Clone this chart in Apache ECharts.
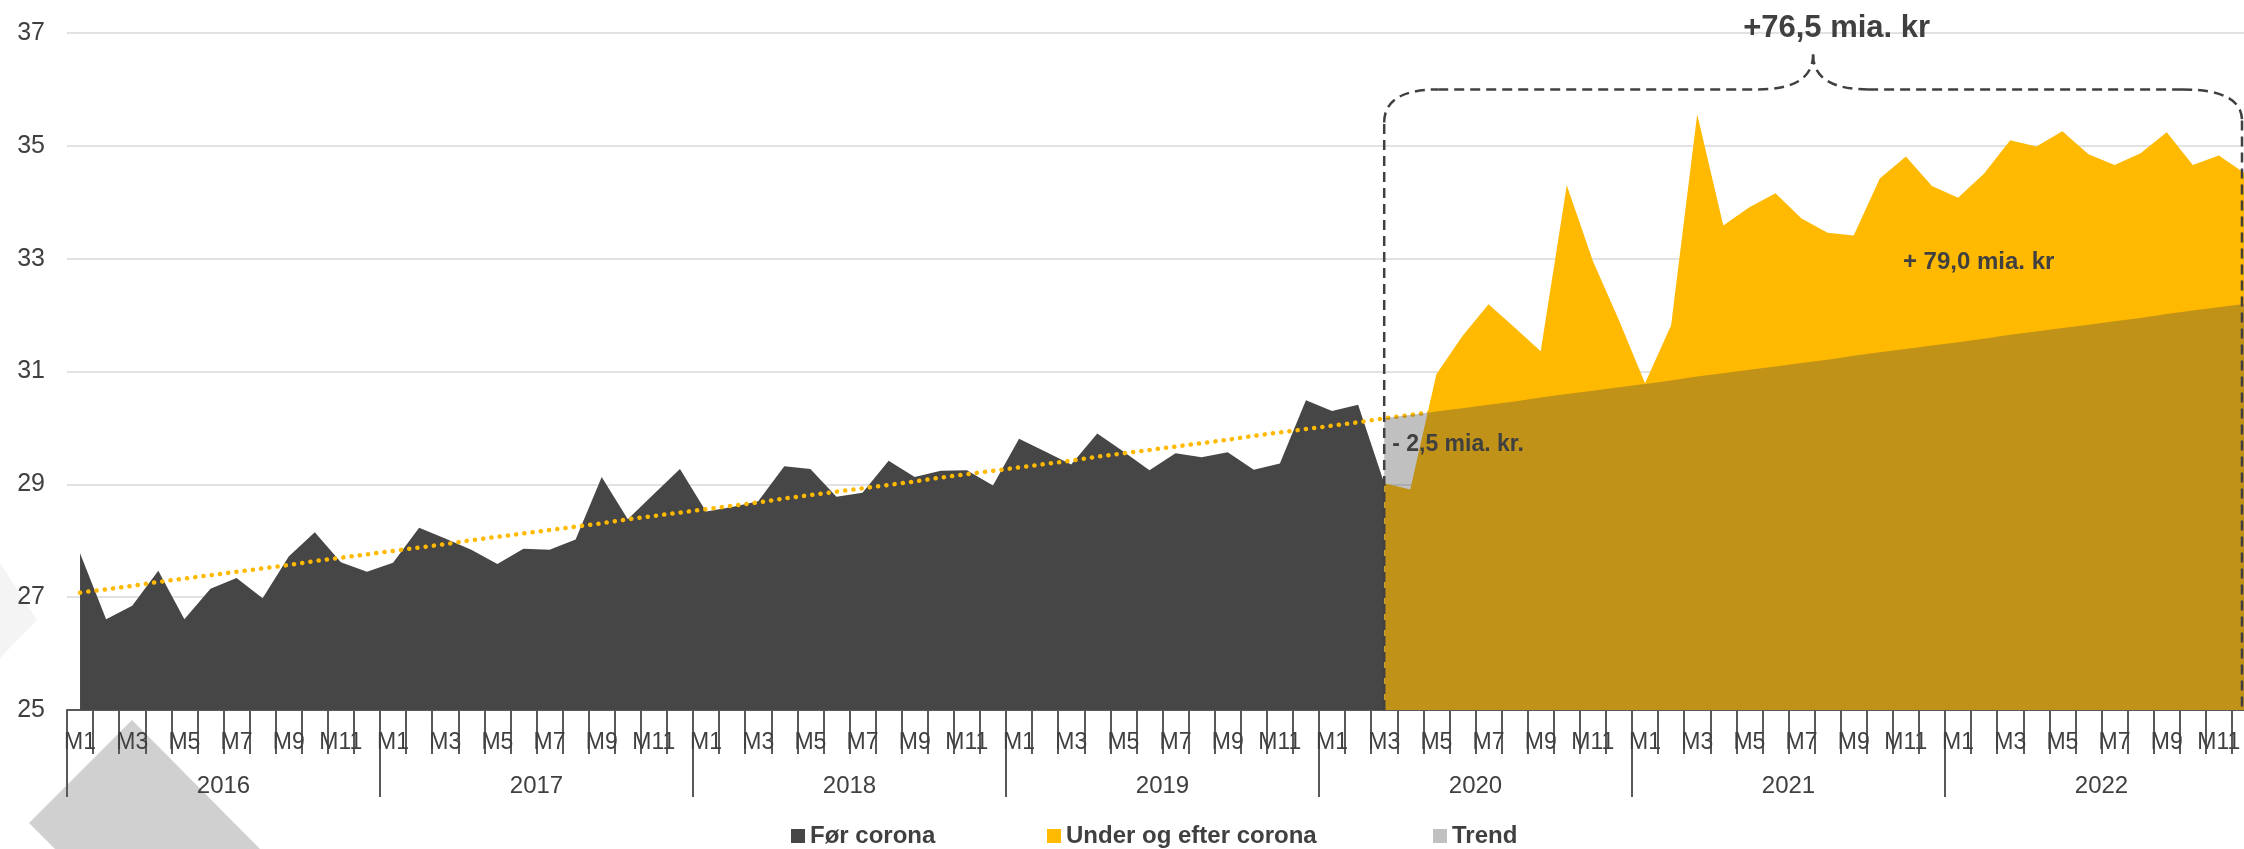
<!DOCTYPE html>
<html><head><meta charset="utf-8">
<script src="https://cdn.jsdelivr.net/npm/echarts@6/dist/echarts.min.js"></script>
<style>html,body{margin:0;padding:0;background:#fff;overflow:hidden}#c{width:2244px;height:849px}</style>
</head><body><div id="c"></div>
<script>
// ---- data ----
const years = ['2016','2017','2018','2019','2020','2021','2022'];
const months = ['M1','M2','M3','M4','M5','M6','M7','M8','M9','M10','M11','M12'];
// Før corona: 2016 M1 – 2020 M3
const forCorona = [27.78,26.61,26.85,27.47,26.61,27.15,27.34,26.98,27.72,28.15,27.62,27.45,
  27.61,28.23,28.04,27.84,27.59,27.86,27.84,28.02,29.13,28.38,28.83,29.27,
  28.52,28.60,28.70,29.32,29.27,28.78,28.85,29.42,29.13,29.24,29.25,28.98,
  29.81,29.58,29.35,29.90,29.58,29.25,29.55,29.48,29.57,29.26,29.37,30.49,
  30.30,30.41,29.02];
// Under og efter corona: 2020 M3 – 2022 M12
const underCorona = [29.02,28.91,30.95,31.63,32.19,31.78,31.36,34.30,32.96,31.91,
  30.79,31.82,35.56,33.59,33.91,34.16,33.71,33.46,33.41,34.42,34.81,34.29,
  34.08,34.51,35.10,34.99,35.26,34.85,34.66,34.87,35.24,34.66,34.83,34.51];
// Trend: 2016 M1 – 2022 M12
const trend = [27.08,27.14,27.20,27.27,27.33,27.39,27.45,27.51,27.57,27.64,27.70,27.76,
  27.82,27.88,27.94,28.01,28.07,28.13,28.19,28.25,28.31,28.38,28.44,28.50,
  28.56,28.62,28.68,28.75,28.81,28.87,28.93,28.99,29.05,29.12,29.18,29.24,
  29.30,29.36,29.42,29.49,29.55,29.61,29.67,29.73,29.79,29.86,29.92,29.98,
  30.04,30.10,30.17,30.23,30.29,30.35,30.41,30.47,30.54,30.60,30.66,30.72,
  30.78,30.84,30.91,30.97,31.03,31.09,31.15,31.21,31.28,31.34,31.40,31.46,
  31.52,31.58,31.65,31.71,31.77,31.83,31.89,31.95,32.02,32.08,32.14,32.20];
const yTicks = {min: 25, max: 37, step: 2};
const coronaStart = 50; // index of 2020 M3
const annotations = {total: '+76,5 mia. kr', above: '+ 79,0 mia. kr', below: '- 2,5 mia. kr.'};

// ---- build ----
const categories = [];
years.forEach(y => months.forEach(m => categories.push(y + ' ' + m)));
const N = categories.length;
const pad = (arr, start) => categories.map((_, i) => (i >= start && i - start < arr.length) ? arr[i - start] : '-');

const FONT = '"Liberation Sans", Arial, sans-serif';
const TXT = '#404040';
const AX = '#595959';

const chart = echarts.init(document.getElementById('c'), null, {renderer: 'canvas'});
const legendCommon = {
  icon: 'rect', itemWidth: 14, itemHeight: 14, top: 819, selectedMode: false,
  textStyle: {fontSize: 24, fontWeight: 'bold', color: TXT, fontFamily: FONT}
};
const option = {
  backgroundColor: '#ffffff',
  animation: false,
  textStyle: {fontFamily: FONT},
  grid: {left: 67, width: 2191, top: 33, bottom: 139, containLabel: false, outerBoundsMode: 'none'},
  legend: [
    Object.assign({data: ['Før corona'], left: 786}, legendCommon),
    Object.assign({data: ['Under og efter corona'], left: 1042}, legendCommon),
    Object.assign({data: [{name: 'Trend', itemStyle: {color: '#C0C0C0'}}], left: 1428}, legendCommon)
  ],
  xAxis: [
    {
      type: 'category', data: categories, boundaryGap: true,
      axisLine: {show: true, lineStyle: {color: AX, width: 2}},
      axisTick: {show: true, interval: 0, length: 44, lineStyle: {color: AX, width: 2}},
      axisLabel: {interval: 1, formatter: v => v.split(' ')[1], fontSize: 23, color: TXT, margin: 21, fontFamily: FONT},
      splitLine: {show: false}
    },
    {
      type: 'category', data: years, boundaryGap: true, position: 'bottom',
      axisLine: {show: false},
      axisTick: {show: true, interval: 0, length: 87, lineStyle: {color: AX, width: 2}},
      axisLabel: {fontSize: 24, color: TXT, margin: 64, fontFamily: FONT},
      splitLine: {show: false}
    }
  ],
  yAxis: {
    type: 'value', min: yTicks.min, max: yTicks.max, interval: yTicks.step,
    axisLine: {show: false}, axisTick: {show: false},
    axisLabel: {fontSize: 25, color: TXT, margin: 22, fontFamily: FONT},
    splitLine: {show: true, lineStyle: {color: '#D9D9D9', width: 1.5}}
  },
  series: [
    {
      name: 'Før corona', type: 'line', data: pad(forCorona, 0), symbol: 'none',
      itemStyle: {color: '#464646'}, lineStyle: {width: 0},
      areaStyle: {color: '#464646', opacity: 1, origin: 'start'}, z: 2
    },
    {
      name: 'Under og efter corona', type: 'line', data: pad(underCorona, coronaStart), symbol: 'none',
      itemStyle: {color: '#FFB900'}, lineStyle: {width: 0},
      areaStyle: {color: '#FFB900', opacity: 1, origin: 'start'}, z: 2
    },
    {
      name: 'Trendlinje', type: 'line', data: trend, symbol: 'none',
      itemStyle: {color: '#FFB900'},
      lineStyle: {color: '#FFB900', width: 4.5, type: [0.1, 8.2], cap: 'round'}, z: 3
    },
    {
      name: 'Trend', type: 'line', data: pad(trend.slice(coronaStart), coronaStart), symbol: 'none',
      itemStyle: {color: 'rgba(70,70,70,0.34)'}, lineStyle: {width: 0},
      areaStyle: {color: 'rgba(70,70,70,0.34)', opacity: 1, origin: 'start'}, z: 4
    }
  ]
};
chart.setOption(option);

// ---- annotations (positioned through the axes) ----
const P = (i, v) => chart.convertToPixel({xAxisIndex: 0, yAxisIndex: 0}, [i, v]);
const xL = P(coronaStart, 25)[0];
const xR = Math.min(P(N - 1, 25)[0] - 2, 2242);
const yB = P(coronaStart, 25)[1];
const yH = P(coronaStart, 36)[1];
const yP = P(coronaStart, 36.62)[1];
const xM = (xL + xR) / 2;
const dash = {stroke: '#404040', lineWidth: 2.5, lineDash: [10, 6], fill: null};
const rxL = 54, ryL = 33, rxR = 60, ryR = 31;
const els = [
  {type: 'line', shape: {x1: xL, y1: yB, x2: xL, y2: yH + ryL}, style: dash},
  {type: 'bezierCurve', shape: {x1: xL, y1: yH + ryL, x2: xL + rxL, y2: yH, cpx1: xL, cpy1: yH}, style: dash},
  {type: 'line', shape: {x1: xL + rxL, y1: yH, x2: xM - 55, y2: yH}, style: dash},
  {type: 'bezierCurve', shape: {x1: xM - 55, y1: yH, x2: xM, y2: yP, cpx1: xM - 18, cpy1: yH, cpx2: xM, cpy2: yH - 12}, style: dash},
  {type: 'bezierCurve', shape: {x1: xM, y1: yP, x2: xM + 55, y2: yH, cpx1: xM, cpy1: yH - 12, cpx2: xM + 18, cpy2: yH}, style: dash},
  {type: 'line', shape: {x1: xM + 55, y1: yH, x2: xR - rxR, y2: yH}, style: dash},
  {type: 'bezierCurve', shape: {x1: xR - rxR, y1: yH, x2: xR, y2: yH + ryR, cpx1: xR, cpy1: yH}, style: dash},
  {type: 'line', shape: {x1: xR, y1: yH + ryR, x2: xR, y2: yB}, style: dash}
].map(e => Object.assign(e, {z: 100, silent: true}));

// category index + pixel nudge (category axis rounds fractional indexes)
function label(text, i, dx, v, align, size) {
  const p = P(i, v);
  return {type: 'text', x: p[0] + dx, y: p[1], z: 101, silent: true,
    style: {text: text, fill: TXT, font: 'bold ' + size + 'px ' + FONT,
      align: align, verticalAlign: 'middle', textAlign: align, textVerticalAlign: 'middle'}};
}
els.push(label(annotations.total, 67, 9, 37.08, 'center', 31));
els.push(label(annotations.above, 70, -3, 32.94, 'left', 24));
els.push(label(annotations.below, 50, 8, 29.70, 'left', 23));

// background slide decorations
els.push({type: 'polygon', z: -10, silent: true, shape: {points: [[132, 720], [29, 823], [55, 849], [260, 849]]}, style: {fill: '#D0D0D0'}});
els.push({type: 'polygon', z: -10, silent: true, shape: {points: [[0, 563], [37, 620], [0, 658]]}, style: {fill: '#F4F4F4'}});

chart.setOption({graphic: {elements: els}});
</script>
</body></html>
